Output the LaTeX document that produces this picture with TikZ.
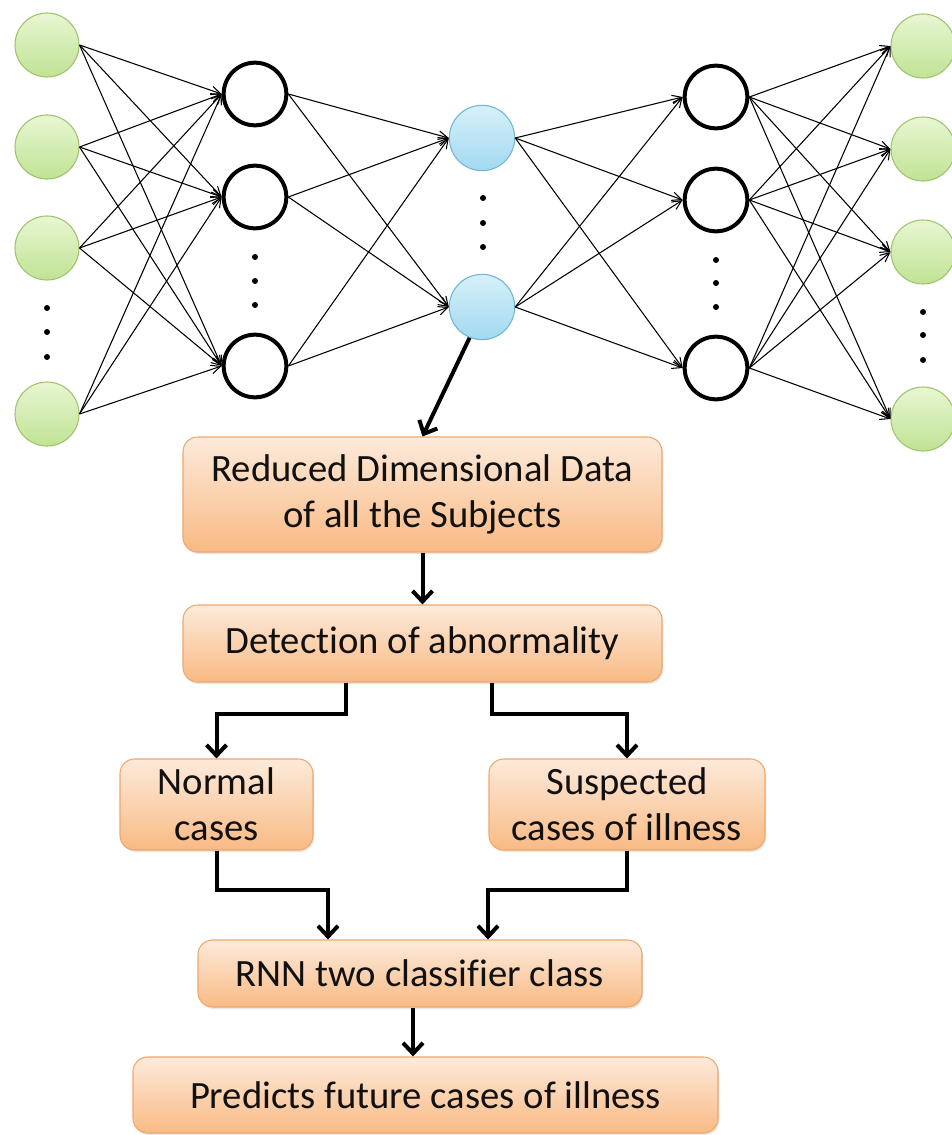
\documentclass[tikz,border=0pt]{standalone}
\usepackage{fontspec}
\setmainfont{Carlito}[Ligatures=NoCommon]
\usetikzlibrary{arrows.meta,shadows}
\definecolor{gfill1}{HTML}{E8F6D2}
\definecolor{gfill2}{HTML}{C0E394}
\definecolor{gline}{HTML}{9DC36B}
\definecolor{bfill1}{HTML}{D6F0FA}
\definecolor{bfill2}{HTML}{A2D9EF}
\definecolor{bline}{HTML}{6FB6D2}
\definecolor{ofill1}{HTML}{FDEADB}
\definecolor{ofill2}{HTML}{F9BA84}
\definecolor{oline}{HTML}{EDA86C}
\definecolor{txt}{HTML}{111111}
\tikzset{
  greennode/.style={circle, minimum size=48pt, inner sep=0pt, top color=gfill1, bottom color=gfill2, draw=gline, line width=0.8pt},
  bluenode/.style={circle, minimum size=49pt, inner sep=0pt, top color=bfill1, bottom color=bfill2, draw=bline, line width=0.8pt},
  hidnode/.style={circle, minimum size=47pt, inner sep=0pt, fill=white, draw=black, line width=3pt},
  dotnode/.style={circle, fill=black, minimum size=4.5pt, inner sep=0pt},
  edge/.style={line width=0.8pt, -{Straight Barb[length=7pt,width=6.5pt]}},
  flow/.style={line width=3pt, -{Straight Barb[length=8pt,width=15pt,line width=3pt]}},
  procbox/.style={rounded corners=11pt, top color=ofill1, bottom color=ofill2, draw=oline, line width=0.8pt, align=center, inner sep=0pt, text=txt, font=\fontsize{29}{34.5}\selectfont, drop shadow={opacity=0.2, shadow xshift=1pt, shadow yshift=-1.5pt}}
}
\begin{document}
\begin{tikzpicture}[x=0.75pt, y=-0.75pt]
\useasboundingbox (0,0) rectangle (951,1135);
% input layer
\node[greennode] (in1) at (47,45) {};
\node[greennode] (in2) at (47,147) {};
\node[greennode] (in3) at (47,248) {};
\node[greennode] (in4) at (47,414) {};
% hidden layer 1
\node[hidnode] (h1) at (255,94) {};
\node[hidnode] (h2) at (255,197) {};
\node[hidnode] (h3) at (255,366) {};
% bottleneck
\node[bluenode] (b1) at (482,138) {};
\node[bluenode] (b2) at (482,307) {};
% hidden layer 2
\node[hidnode] (g1) at (716,97) {};
\node[hidnode] (g2) at (716,200) {};
\node[hidnode] (g3) at (716,368) {};
% output layer
\node[greennode] (o1) at (923,46) {};
\node[greennode] (o2) at (923,149) {};
\node[greennode] (o3) at (923,252) {};
\node[greennode] (o4) at (923,419) {};
% dots
\node[dotnode] (di1) at (47,308) {};
\node[dotnode] (di2) at (47,332) {};
\node[dotnode] (di3) at (47,357) {};
\node[dotnode] (dh1) at (255,257) {};
\node[dotnode] (dh2) at (255,281) {};
\node[dotnode] (dh3) at (255,305) {};
\node[dotnode] (db1) at (483,198) {};
\node[dotnode] (db2) at (483,223) {};
\node[dotnode] (db3) at (483,247) {};
\node[dotnode] (dg1) at (716,260) {};
\node[dotnode] (dg2) at (716,283) {};
\node[dotnode] (dg3) at (716,307) {};
\node[dotnode] (do1) at (923,312) {};
\node[dotnode] (do2) at (923,335) {};
\node[dotnode] (do3) at (923,360) {};
% edges
\foreach \s in {in1,in2,in3,in4} \foreach \t in {h1,h2,h3} \draw[edge] (\s.east) -- (\t.west);
\foreach \s in {h1,h2,h3} \foreach \t in {b1,b2} \draw[edge] (\s.east) -- (\t.west);
\foreach \s in {b1,b2} \foreach \t in {g1,g2,g3} \draw[edge] (\s.east) -- (\t.west);
\foreach \s in {g1,g2,g3} \foreach \t in {o1,o2,o3,o4} \draw[edge] (\s.east) -- (\t.west);
% process boxes
\node[procbox, minimum width=359.25pt, minimum height=86.25pt] (box1) at (422.5,494.5) {Reduced Dimensional Data\\of all the Subjects};
\node[procbox, minimum width=359.25pt, minimum height=57.75pt] (box2) at (422.5,643.5) {Detection of abnormality};
\node[procbox, minimum width=144.75pt, minimum height=68.25pt] (norm) at (216.5,804.5) {Normal\\cases};
\node[procbox, minimum width=207pt, minimum height=68.25pt] (susp) at (627,804.5) {Suspected\\cases of illness};
\node[procbox, minimum width=333pt, minimum height=50.25pt] (rnn) at (420,973.5) {RNN two classifier class};
\node[procbox, minimum width=438.75pt, minimum height=57pt] (pred) at (425.5,1095) {Predicts future cases of illness};
% flow connectors
\draw[flow] (b2.248) -- (box1.north);
\draw[flow] (box1.south) -- (box2.north);
\draw[flow] ([shift={(-76.5,0)}]box2.south) -- ++(0,31) -| (norm.north);
\draw[flow] ([shift={(69.5,0)}]box2.south) -- ++(0,31) -| (susp.north);
\draw[flow] (norm.south) -- ++(0,39) -| ([shift={(-92,0)}]rnn.north);
\draw[flow] (susp.south) -- ++(0,39) -| ([shift={(68,0)}]rnn.north);
\draw[flow] ([shift={(-7,0)}]rnn.south) -- ([shift={(-12.5,0)}]pred.north);
\end{tikzpicture}
\end{document}
